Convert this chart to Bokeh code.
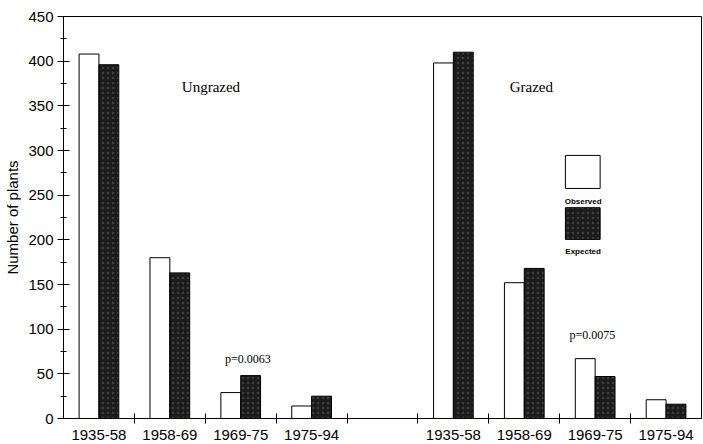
from bokeh.plotting import figure
from bokeh.models import Range1d, FixedTicker, BoxAnnotation, Label
from bokeh.embed import file_html
from bokeh.resources import INLINE

# ---- data ----
periods = ["1935-58", "1958-69", "1969-75", "1975-94"]
ungrazed_observed = [408, 180, 29, 14]
ungrazed_expected = [396, 163, 48, 25]
grazed_observed = [398, 152, 67, 21]
grazed_expected = [410, 168, 47, 16]
p_ungrazed = "p=0.0063"
p_grazed = "p=0.0075"
y_tick_values = [0, 50, 100, 150, 200, 250, 300, 350, 400, 450]

# ---- layout (slot index: 0-3 ungrazed, 4 empty, 5-8 grazed) ----
n = len(periods)
x_ung = [i + 0.5 for i in range(n)]
x_gr = [i + n + 1.5 for i in range(n)]
bw = 0.28

SANS = "Liberation Sans"
SERIF = "Liberation Serif"
DARK = "#1c1c1c"

p = figure(width=703, height=444, output_backend="svg", toolbar_location=None,
           x_range=Range1d(0, 2 * n + 1), y_range=Range1d(0, 450),
           min_border_left=63, min_border_right=2, min_border_top=16, min_border_bottom=26)
p.background_fill_color = "white"
p.border_fill_color = "white"
p.outline_line_color = "black"
p.outline_line_width = 1
p.xgrid.visible = False
p.ygrid.visible = False

def bars(xs, obs, exp):
    p.vbar(x=[x - bw / 2 for x in xs], top=obs, width=bw, bottom=0,
           fill_color="white", line_color="black", line_width=1)
    p.vbar(x=[x + bw / 2 for x in xs], top=exp, width=bw, bottom=0,
           fill_color=DARK, line_color="black", line_width=1,
           hatch_pattern="dot", hatch_color="#8a8a8a", hatch_scale=5, hatch_alpha=0.3)

bars(x_ung, ungrazed_observed, ungrazed_expected)
bars(x_gr, grazed_observed, grazed_expected)

# ---- axes ----
xa = p.xaxis[0]
centers = x_ung + x_gr
xa.ticker = FixedTicker(ticks=centers, minor_ticks=list(range(1, 2 * n + 1)))
xa.major_label_overrides = {c: lab for c, lab in zip(centers, periods + periods)}
xa.major_tick_in = 0
xa.major_tick_out = 0
xa.minor_tick_in = 5
xa.minor_tick_out = 5
xa.minor_tick_line_color = "black"
xa.axis_line_color = "black"
xa.major_label_standoff = 6
xa.major_label_text_font = SANS
xa.major_label_text_font_size = "15px"
xa.major_label_text_color = "black"

ya = p.yaxis[0]
ya.ticker = FixedTicker(ticks=y_tick_values,
                        minor_ticks=[v + 25 for v in y_tick_values[:-1]])
ya.major_tick_in = 6
ya.major_tick_out = 6
ya.minor_tick_in = 3
ya.minor_tick_out = 3
ya.major_tick_line_color = "black"
ya.minor_tick_line_color = "black"
ya.axis_line_color = "black"
ya.major_label_standoff = 4
ya.major_label_text_font = SANS
ya.major_label_text_font_size = "15px"
ya.major_label_text_color = "black"
ya.axis_label = "Number of plants"
ya.axis_label_text_font = SANS
ya.axis_label_text_font_style = "normal"
ya.axis_label_text_font_size = "15px"
ya.axis_label_text_color = "black"
ya.axis_label_standoff = 4

# ---- annotations ----
p.add_layout(Label(x=2.08, y=371, text="Ungrazed", text_align="center", text_baseline="middle",
                   text_font=SERIF, text_font_size="15px", text_color="black"))
p.add_layout(Label(x=6.6, y=371, text="Grazed", text_align="center", text_baseline="middle",
                   text_font=SERIF, text_font_size="15px", text_color="black"))
p.add_layout(Label(x=x_ung[2] + 0.1, y=max(ungrazed_observed[2], ungrazed_expected[2]) + 19,
                   text=p_ungrazed, text_align="center", text_baseline="middle",
                   text_font=SERIF, text_font_size="12px", text_color="black"))
p.add_layout(Label(x=x_gr[2] - 0.04, y=max(grazed_observed[2], grazed_expected[2]) + 26,
                   text=p_grazed, text_align="center", text_baseline="middle",
                   text_font=SERIF, text_font_size="12px", text_color="black"))

# ---- legend (manual, boxes with labels beneath) ----
p.add_layout(BoxAnnotation(left=7.08, right=7.57, bottom=257.5, top=294.5,
                           fill_color="white", fill_alpha=1, line_color="black",
                           line_alpha=1, line_width=1))
p.add_layout(Label(x=7.33, y=243, text="Observed", text_align="center", text_baseline="middle",
                   text_font=SANS, text_font_size="8px", text_font_style="bold",
                   text_color="black"))
p.add_layout(BoxAnnotation(left=7.08, right=7.57, bottom=200.5, top=236,
                           fill_color=DARK, fill_alpha=1, line_color="black",
                           line_alpha=1, line_width=1,
                           hatch_pattern="dot", hatch_color="#8a8a8a", hatch_scale=5,
                           hatch_alpha=0.3))
p.add_layout(Label(x=7.33, y=187, text="Expected", text_align="center", text_baseline="middle",
                   text_font=SANS, text_font_size="8px", text_font_style="bold",
                   text_color="black"))

open("out.html", "w").write(file_html(p, INLINE))
